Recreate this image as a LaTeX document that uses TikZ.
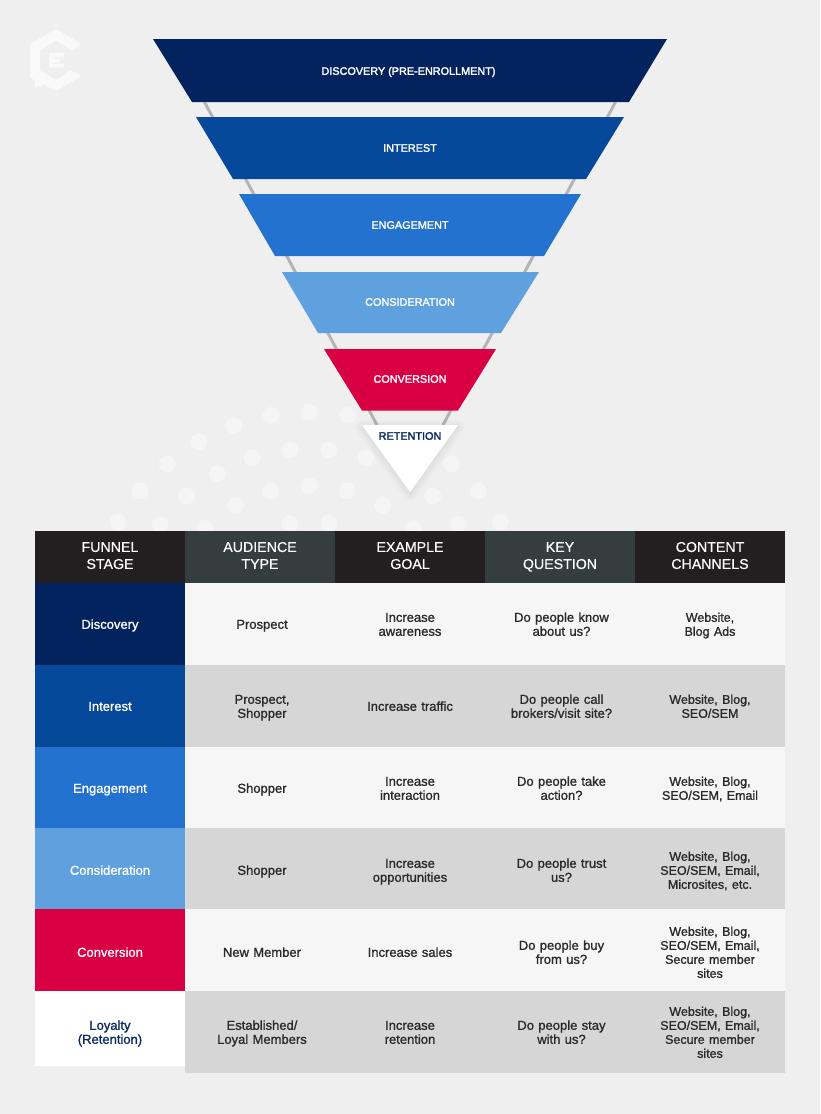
\documentclass[tikz,border=0pt]{standalone}
\usepackage{fontspec}
\setmainfont{Liberation Sans}[FakeBold=1.2]
\newfontfamily\hdfont{Liberation Sans}[FakeBold=0.4]
\newfontfamily\capsfont{Liberation Sans}[FakeBold=2.2]
\definecolor{bgc}{HTML}{EFEFEF}
\definecolor{dotc}{HTML}{F5F5F5}
\definecolor{logoc}{HTML}{F9F9F9}
\definecolor{navy}{HTML}{03235E}
\definecolor{royal}{HTML}{06489A}
\definecolor{midb}{HTML}{2372CF}
\definecolor{skyb}{HTML}{5FA0DE}
\definecolor{crim}{HTML}{D80042}
\definecolor{rett}{HTML}{0B2A66}
\definecolor{hdk}{HTML}{231F20}
\definecolor{hgr}{HTML}{363D3E}
\definecolor{rowl}{HTML}{F6F6F6}
\definecolor{rowd}{HTML}{D6D6D6}
\definecolor{ink}{HTML}{2A2A2C}
\definecolor{stem}{HTML}{B4B4B4}
\tikzset{
  x=1pt,y=-1pt,
  ftext/.style={text=white,font=\capsfont\fontsize{10.85}{12}\selectfont,inner sep=0pt},
  cell/.style={inner sep=0pt,text width=150pt,align=center,yshift=-2pt,font=\fontsize{13}{14}\selectfont,text=ink,
    execute at begin node=\strut,execute at end node=\strut},
  chancell/.style={cell,font=\fontsize{12.5}{14}\selectfont},
  hcell/.style={cell,text=white,font=\hdfont\fontsize{14.2}{17}\selectfont},
  stagecell/.style={cell,text=white}
}
% name, left, top, bottom, fill, text centre y, text centre x, text
\newcommand{\rowcell}[8]{%
  \fill[#5] (#2,#3) rectangle (#2+150,#4);
  \node[cell] (#1) at (#7,#6) {#8};}
\newcommand{\chancellbox}[6]{%
  \fill[#5] (#2,#3) rectangle (#2+150,#4);
  \node[chancell] (#1) at (710,#3/2+#4/2+1) {#6};}
\begin{document}
\begin{tikzpicture}
\useasboundingbox (0,0) rectangle (820,1114);
\fill[bgc] (0,0) rectangle (820,1114);
% dots
\foreach \px/\py in {271/415.3,309.3/412.3,347.7/415.3,233.7/425.7,199/441.7,167.3/464,140/491,118/522.3,160.3/524.3,186.3/496,217.3/473.7,252.3/458,290/450,328.7/450,366/458,451.7/464,478.3/491,500.3/522.3,458.3/524.3,432.7/496,383/505.3,347.3/491,309.3/485.7,271/491,235.7/505.3,205/528.3,290/523.3,328.7/523.3,413.3/528.3}
  \fill[dotc] (\px,\py) circle (8.4);
% stem lines
\draw[stem,line width=3pt] (204.5,102) -- (377,425);
\draw[stem,line width=3pt] (615.5,102) -- (443,425);
% funnel
\fill[navy] (153,39) -- (667,39) -- (629,102) -- (192,102) -- cycle;
\fill[royal] (196,117) -- (624,117) -- (586,179) -- (233,179) -- cycle;
\fill[midb] (239,194) -- (581,194) -- (544,256) -- (275,256) -- cycle;
\fill[skyb] (282,272) -- (539,272) -- (501,333) -- (318,333) -- cycle;
\fill[crim] (324,349) -- (496,349) -- (458,410.5) -- (362,410.5) -- cycle;
% retention shadow
\foreach \w in {14,11,8,5,2}
  \draw[black,opacity=0.012,line width=\w pt,line join=round] (362,427) -- (458,427) -- (410,494) -- cycle;
\fill[white] (362,425) -- (458,425) -- (410,492) -- cycle;
\node[ftext] (t1) at (408.5,72) {DISCOVERY (PRE-ENROLLMENT)};
\node[ftext] (t2) at (410,148) {INTEREST};
\node[ftext] (t3) at (410,225) {ENGAGEMENT};
\node[ftext] (t4) at (410,302) {CONSIDERATION};
\node[ftext] (t5) at (410,379) {CONVERSION};
\node[ftext,text=rett] (t6) at (410,436) {RETENTION};
% logo
\fill[logoc] (56,29) -- (80,43) -- (80,45.5) -- (72,50) -- (56,41) -- (40,50) -- (40,70.5) -- (56,79.5) -- (64,75) -- (66,75) -- (66,72.5) -- (71,70.5) -- (80,75) -- (80,77) -- (56,91) -- (44,84.5) -- (34.5,88.5) -- (34.5,80) -- (30,77.5) -- (30,44) -- cycle;
\fill[logoc] (49,53) -- (64,53) -- (64,57) -- (54,57) -- (54,58.5) -- (60,58.5) -- (60,62) -- (54,62) -- (54,63.5) -- (64,63.5) -- (64,67.5) -- (49,67.5) -- cycle;
% header
\fill[hdk] (35,531) rectangle (185,583);
\fill[hgr] (185,531) rectangle (335,583);
\fill[hdk] (335,531) rectangle (485,583);
\fill[hgr] (485,531) rectangle (635,583);
\fill[hdk] (635,531) rectangle (785,583);
\node[hcell] (ht1) at (110,555) {FUNNEL\\STAGE};
\node[hcell] (ht2) at (260,555) {AUDIENCE\\TYPE};
\node[hcell] (ht3) at (410,555) {EXAMPLE\\GOAL};
\node[hcell] (ht4) at (560,555) {KEY\\QUESTION};
\node[hcell] (ht5) at (710,555) {CONTENT\\CHANNELS};
% stage column
\fill[navy] (35,583) rectangle (185,665);
\fill[royal] (35,665) rectangle (185,747);
\fill[midb] (35,747) rectangle (185,828);
\fill[skyb] (35,828) rectangle (185,909);
\fill[crim] (35,909) rectangle (185,991);
\fill[white] (35,991) rectangle (185,1066);
\node[stagecell] (s1) at (110,624) {Discovery};
\node[stagecell] (s2) at (110,706) {Interest};
\node[stagecell] (s3) at (110,788) {Engagement};
\node[stagecell] (s4) at (110,870) {Consideration};
\node[stagecell] (s5) at (110,952) {Conversion};
\node[stagecell,text=rett] (s6) at (110,1032) {Loyalty\\(Retention)};
% body
\rowcell{a1}{185}{583}{665}{rowl}{624}{262}{Prospect}
\rowcell{b1}{335}{583}{665}{rowl}{624}{410}{Increase\\awareness}
\rowcell{c1}{485}{583}{665}{rowl}{624}{561.5}{Do people know\\about us?}
\rowcell{a2}{185}{665}{747}{rowd}{706}{262}{Prospect,\\Shopper}
\rowcell{b2}{335}{665}{747}{rowd}{706}{410}{Increase traffic}
\rowcell{c2}{485}{665}{747}{rowd}{706}{561.5}{Do people call\\brokers/visit site?}
\rowcell{a3}{185}{747}{828}{rowl}{788}{262}{Shopper}
\rowcell{b3}{335}{747}{828}{rowl}{788}{410}{Increase\\interaction}
\rowcell{c3}{485}{747}{828}{rowl}{788}{561.5}{Do people take\\action?}
\rowcell{a4}{185}{828}{909}{rowd}{870}{262}{Shopper}
\rowcell{b4}{335}{828}{909}{rowd}{870}{410}{Increase\\opportunities}
\rowcell{c4}{485}{828}{909}{rowd}{870}{561.5}{Do people trust\\us?}
\rowcell{a5}{185}{909}{991}{rowl}{952}{262}{New Member}
\rowcell{b5}{335}{909}{991}{rowl}{952}{410}{Increase sales}
\rowcell{c5}{485}{909}{991}{rowl}{952}{561.5}{Do people buy\\from us?}
\rowcell{a6}{185}{991}{1073}{rowd}{1032}{262}{Established/\\Loyal Members}
\rowcell{b6}{335}{991}{1073}{rowd}{1032}{410}{Increase\\retention}
\rowcell{c6}{485}{991}{1073}{rowd}{1032}{561.5}{Do people stay\\with us?}
% channels column
\rowcell{d1}{635}{583}{665}{rowl}{624}{710}{\fontsize{12.5}{14}\selectfont Website,\\Blog Ads}
\rowcell{d2}{635}{665}{747}{rowd}{706}{710}{\fontsize{12.5}{14}\selectfont Website, Blog,\\SEO/SEM}
\rowcell{d3}{635}{747}{828}{rowl}{788}{710}{\fontsize{12.5}{14}\selectfont Website, Blog,\\SEO/SEM, Email}
\rowcell{d4}{635}{828}{909}{rowd}{870}{710}{\fontsize{12.5}{14}\selectfont Website, Blog,\\SEO/SEM, Email,\\Microsites, etc.}
\rowcell{d5}{635}{909}{991}{rowl}{952}{710}{\fontsize{12.5}{14}\selectfont Website, Blog,\\SEO/SEM, Email,\\Secure member\\sites}
\rowcell{d6}{635}{991}{1073}{rowd}{1032}{710}{\fontsize{12.5}{14}\selectfont Website, Blog,\\SEO/SEM, Email,\\Secure member\\sites}
\end{tikzpicture}
\end{document}
